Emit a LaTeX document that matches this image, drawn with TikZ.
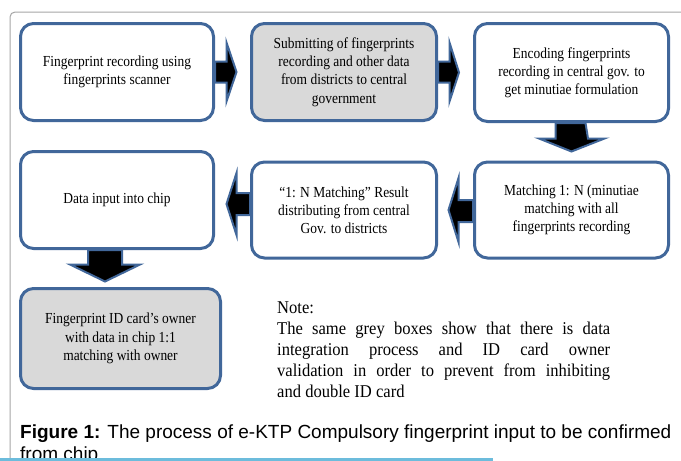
\documentclass[tikz,border=0pt]{standalone}
\usepackage{fontspec}
\setmainfont{Liberation Serif}
\newfontfamily\boxfont[FakeStretch=0.88]{Liberation Serif}
\newfontfamily\notefont[FakeStretch=0.92]{Liberation Serif}
\newfontfamily\capfont{Liberation Sans}
\usetikzlibrary{calc}
\definecolor{bblue}{HTML}{41679A}
\definecolor{boxgrey}{HTML}{D9D9D9}
\definecolor{framegrey}{HTML}{A6A6A6}
\definecolor{lineblue}{HTML}{6CBCDC}
\begin{document}
\begin{tikzpicture}[x=1pt,y=-1pt,
  box/.style={draw=bblue, line width=3pt, rounded corners=13pt, align=center,
    font=\boxfont\fontsize{15.3}{18.2}\selectfont, inner sep=0pt, fill=white},
  greybox/.style={box, fill=boxgrey},
  blk/.style={fill=black, draw=bblue, line width=2pt, line join=miter},
  noteline/.style={anchor=base west, inner sep=0pt, font=\notefont\fontsize{18}{21}\selectfont},
  capline/.style={anchor=base west, inner sep=0pt, font=\capfont\fontsize{19}{22}\selectfont}]
\useasboundingbox (0,0) rectangle (681,461);
\clip (0,0) rectangle (681,461);
\fill[white] (0,0) rectangle (681,461);
% frame
\draw[framegrey, line width=1pt, rounded corners=5pt] (10,475) -- (10,12) -- (695,12);
% boxes
\node[box, minimum width=193pt, minimum height=97pt] (b1) at (117,72)
  {Fingerprint recording using\\fingerprints scanner};
\node[greybox, minimum width=185pt, minimum height=97pt] (b2) at (344,72)
  {Submitting of fingerprints\\recording and other data\\from districts to central\\government};
\node[box, minimum width=194pt, minimum height=98pt] (b3) at (571.5,72.5)
  {Encoding fingerprints\\recording in central gov. to\\get minutiae formulation};
\node[box, minimum width=193pt, minimum height=97pt] (b4) at (117,200)
  {Data input into chip};
\node[box, minimum width=185pt, minimum height=96pt] (b5) at (344,210)
  {“1: N Matching” Result\\distributing from central\\Gov. to districts};
\node[box, minimum width=194pt, minimum height=96pt] (b6) at (571.5,210)
  {Matching 1: N (minutiae\\matching with all\\fingerprints recording};
\node[greybox, minimum width=200pt, minimum height=100pt] (b7) at (120.5,338.5)
  {Fingerprint ID card’s owner\\with data in chip 1:1\\matching with owner};
% block arrows
\draw[blk] ($(b1.east)+(0,-10.5)$) -- ++(11.5,0) -- ++(0,-19) -- ($(b2.west)+(-13.5,0)$)
  -- ($(b1.east)+(11.5,29.5)$) -- ++(0,-19) -- ($(b1.east)+(0,10.5)$) -- cycle;
\draw[blk] ($(b2.east)+(0,-10.5)$) -- ++(11.5,0) -- ++(0,-19) -- ($(b3.west)+(-14,0)$)
  -- ($(b2.east)+(11.5,29.5)$) -- ++(0,-19) -- ($(b2.east)+(0,10.5)$) -- cycle;
\draw[blk] ($(b3.south)+(-16,0)$) -- ++(0,15.5) -- ++(-16.5,0) -- ($(b6.north)+(0,-9)$)
  -- ($(b3.south)+(33,15.5)$) -- ++(-16.5,0) -- ($(b3.south)+(14,0)$) -- cycle;
\draw[blk] ($(b6.west)+(0,-10)$) -- ++(-14.5,0) -- ++(0,-22) -- ($(b5.east)+(10.5,0)$)
  -- ($(b6.west)+(-14.5,32)$) -- ++(0,-20) -- ($(b6.west)+(0,12)$) -- cycle;
\draw[blk] ($(b5.west)+(0,-17)$) -- ++(-13.5,0) -- ++(0,-20) -- ($(b4.east)+(11.5,4)$)
  -- ($(b5.west)+(-13.5,25)$) -- ++(0,-20) -- ($(b5.west)+(0,5)$) -- cycle;
\draw[blk] ($(b4.south)+(-29,0)$) -- ++(0,14.5) -- ++(-18,0) -- ($(b7.north)+(-15.5,-5.5)$)
  -- ($(b4.south)+(23,14.5)$) -- ++(-18,0) -- ($(b4.south)+(5,0)$) -- cycle;
% note
\node[noteline] (n0) at (277,313) {Note:};
\node[noteline] (n1) at (277,334.5) {\makebox[333pt][s]{The same grey boxes show that there is data}};
\node[noteline] (n2) at (277,355.5) {\makebox[333pt][s]{integration process and ID card owner}};
\node[noteline] (n3) at (277,376.5) {\makebox[333pt][s]{validation in order to prevent from inhibiting}};
\node[noteline] (n4) at (277,397.5) {and double ID card};
% caption
\node[capline] (c1) at (20,438) {\textbf{Figure 1:} The process of e-KTP Compulsory fingerprint input to be confirmed};
\node[capline] (c2) at (20,460) {from chip};
\fill[lineblue] (0,458) rectangle (493,461);
\end{tikzpicture}
\end{document}
